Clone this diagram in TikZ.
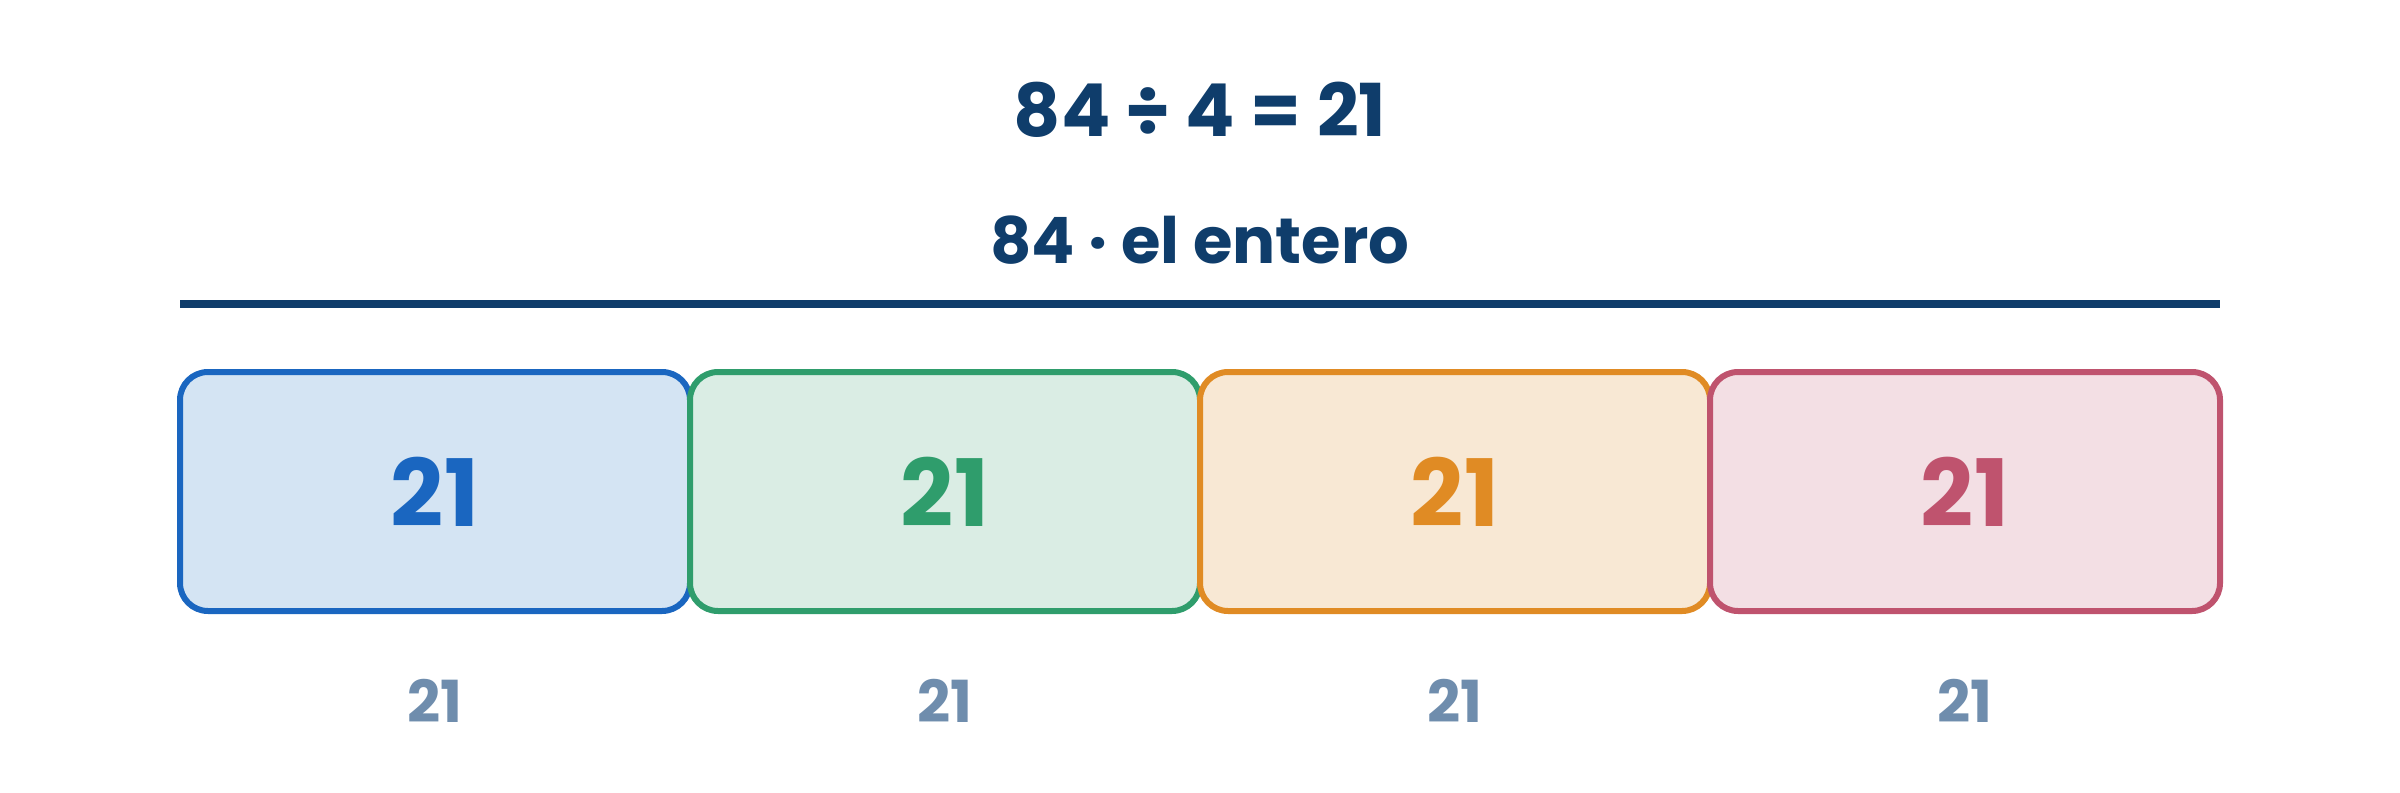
\documentclass[tikz,border=0pt]{standalone}
\usepackage{fontspec}
\setmainfont{Poppins}
\usepackage{tikz}
\usetikzlibrary{positioning}
\usetikzlibrary{calc}

\definecolor{navy}{HTML}{0F3D6B}
\definecolor{lblgray}{HTML}{6F8DAD}
\definecolor{pblue}{HTML}{1A66C0}
\definecolor{pbluebg}{HTML}{D4E4F3}
\definecolor{pgreen}{HTML}{2F9D6C}
\definecolor{pgreenbg}{HTML}{DAEDE4}
\definecolor{porange}{HTML}{E08B24}
\definecolor{porangebg}{HTML}{F8E8D4}
\definecolor{ppink}{HTML}{BF536E}
\definecolor{ppinkbg}{HTML}{F3DFE4}

\tikzset{
  part/.style={draw=#1, fill=#1bg, text=#1, line width=6pt, rounded corners=28pt,
    minimum width=510pt, minimum height=239pt, inner sep=0pt,
    font=\fontsize{93}{100}\selectfont\bfseries},
  sizelbl/.style={text=lblgray, inner sep=0pt, font=\fontsize{58}{62}\selectfont\bfseries}
}

\begin{document}
\begin{tikzpicture}[x=1pt,y=-1pt]

\useasboundingbox (0,0) rectangle (2400,792);

\coordinate (L0) at (180,304) {};
\coordinate (L1) at (2220,304) {};

\node[text=navy, inner sep=0pt, font=\fontsize{73}{78}\selectfont\bfseries] (title) at (1200,110) {84 ÷ 4 = 21};
\node[text=navy, inner sep=0pt, font=\fontsize{64}{68}\selectfont\bfseries] (whole) at (1200,240) {84 · el entero};

\draw[navy, line width=8pt] (L0) -- (L1);

\node[part=pblue] (p1) at (435,491.5) {21};
\node[part=pgreen] (p2) at (945,491.5) {21};
\node[part=porange] (p3) at (1455,491.5) {21};
\node[part=ppink] (p4) at (1965,491.5) {21};

\node[sizelbl] (s1) at (435,701) {21};
\node[sizelbl] (s2) at (945,701) {21};
\node[sizelbl] (s3) at (1455,701) {21};
\node[sizelbl] (s4) at (1965,701) {21};


\end{tikzpicture}
\end{document}
